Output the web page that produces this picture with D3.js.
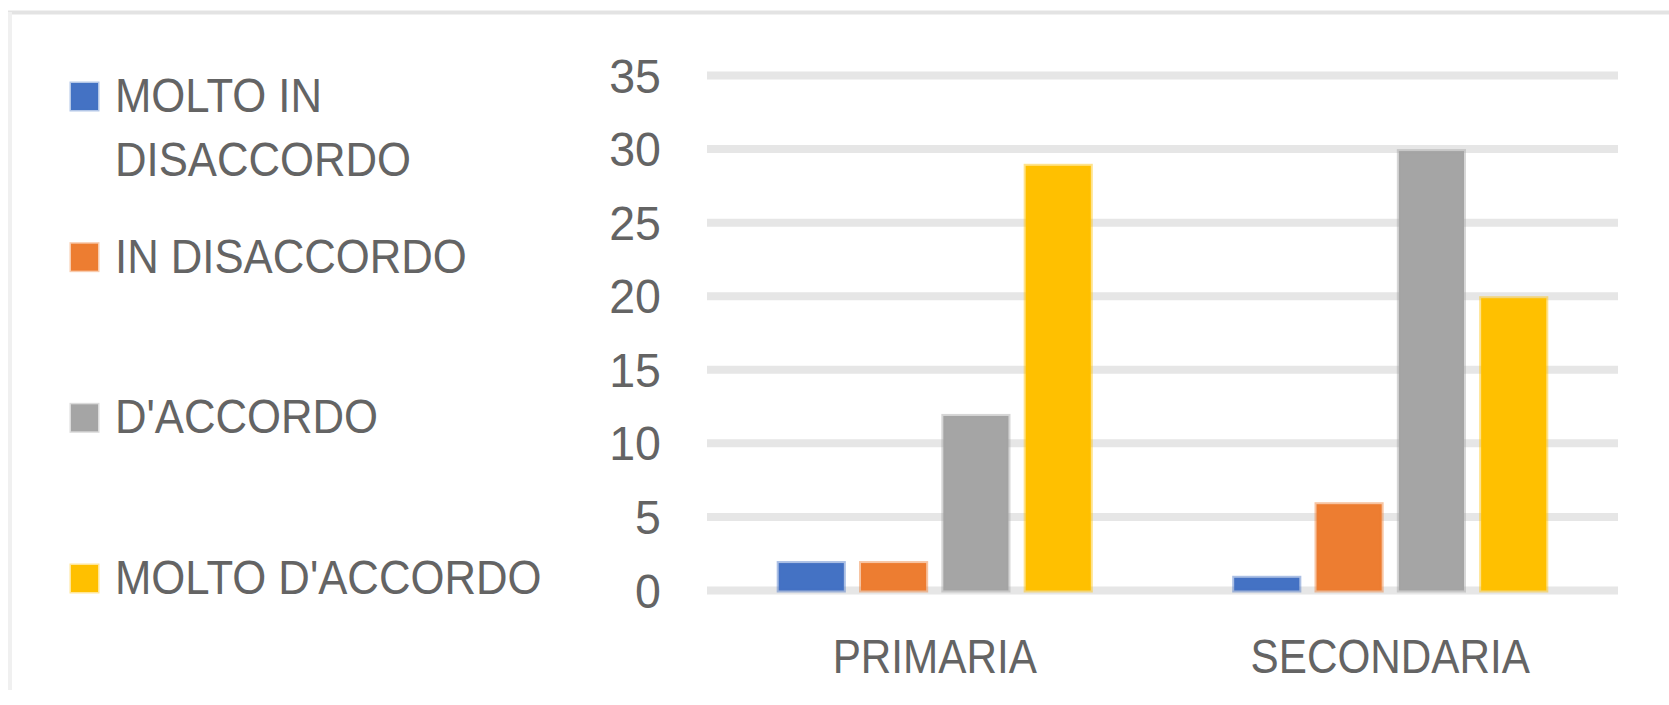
<!DOCTYPE html>
<html>
<head>
<meta charset="utf-8">
<script src="https://cdn.jsdelivr.net/npm/d3@7"></script>
<style>
  html, body { margin: 0; padding: 0; background: #ffffff; }
  svg { display: block; }
  text { font-family: "Liberation Sans", Arial, sans-serif; fill: #646464; }
</style>
</head>
<body>
<svg id="chart" width="1669" height="705"></svg>
<script>
// Survey answers by school level
const categories = ["PRIMARIA", "SECONDARIA"];
const seriesNames = ["MOLTO IN DISACCORDO", "IN DISACCORDO", "D'ACCORDO", "MOLTO D'ACCORDO"];
const legendLines = [["MOLTO IN", "DISACCORDO"], ["IN DISACCORDO"], ["D'ACCORDO"], ["MOLTO D'ACCORDO"]];
const seriesColors = ["#4472C4", "#ED7D31", "#A5A5A5", "#FFC000"];
const molto_in_disaccordo = [2, 1];
const in_disaccordo = [2, 6];
const d_accordo = [12, 30];
const molto_d_accordo = [29, 20];
const yTicks = [0, 5, 10, 15, 20, 25, 30, 35];

const seriesValues = [molto_in_disaccordo, in_disaccordo, d_accordo, molto_d_accordo];

const svg = d3.select("#chart");
const W = 1669, H = 705;

// outer chart frame (top and left edges visible)
svg.append("line").attr("x1", 8).attr("x2", W).attr("y1", 12.5).attr("y2", 12.5)
  .attr("stroke", "#e3e3e3").attr("stroke-width", 4);
svg.append("line").attr("x1", 10).attr("x2", 10).attr("y1", 12).attr("y2", 690)
  .attr("stroke", "#f0f0f0").attr("stroke-width", 4);

const plot = { left: 707, right: 1618, top: 75.5, bottom: 590.5 };

const y = d3.scaleLinear().domain([0, 35]).range([plot.bottom, plot.top]);
const x0 = d3.scaleBand().domain(categories).range([plot.left, plot.right]).padding(0);
const groupW = x0.bandwidth() * 0.694;
const x1 = d3.scaleBand().domain(seriesNames)
  .range([(x0.bandwidth() - groupW) / 2, (x0.bandwidth() + groupW) / 2])
  .paddingInner(0.16).paddingOuter(0);

// gridlines
svg.append("g").selectAll("line").data(yTicks).join("line")
  .attr("x1", plot.left).attr("x2", plot.right)
  .attr("y1", d => y(d)).attr("y2", d => y(d))
  .attr("stroke", "#e6e6e6").attr("stroke-width", 8);

// y axis labels
const sxTick = 0.95;
svg.append("g").selectAll("text").data(yTicks).join("text")
  .attr("text-anchor", "end")
  .attr("font-size", 49)
  .attr("transform", d => `translate(661,${y(d) + 17}) scale(${sxTick},1)`)
  .text(d => d);

// bars
const groups = svg.append("g").selectAll("g").data(categories).join("g")
  .attr("transform", c => `translate(${x0(c)},0)`);
const inset = 2;
groups.selectAll("rect")
  .data((c, ci) => seriesNames.map((s, si) => ({ s, si, v: seriesValues[si][ci] })))
  .join("rect")
  .attr("x", d => x1(d.s) + inset)
  .attr("width", x1.bandwidth() - 2 * inset)
  .attr("y", d => y(d.v) + inset)
  .attr("height", d => Math.max(0, y(0) - y(d.v) - inset))
  .attr("fill", d => seriesColors[d.si])
  .attr("stroke", d => seriesColors[d.si])
  .attr("stroke-opacity", 0.45)
  .attr("stroke-width", 4);

// category labels
const sxText = 0.88;
svg.append("g").selectAll("text").data(categories).join("text")
  .attr("text-anchor", "middle")
  .attr("font-size", 48)
  .attr("transform", c => `translate(${x0(c) + x0.bandwidth() / 2},673) scale(${sxText},1)`)
  .text(c => c);

// legend
const legendY = d3.scalePoint().domain(seriesNames).range([96, 578]);
const leg = svg.append("g").selectAll("g").data(seriesNames).join("g")
  .attr("transform", s => `translate(0,${legendY(s)})`);
leg.append("rect")
  .attr("x", 71).attr("y", -13).attr("width", 27).attr("height", 27)
  .attr("fill", (s, i) => seriesColors[i])
  .attr("stroke", (s, i) => seriesColors[i]).attr("stroke-opacity", 0.4).attr("stroke-width", 3);
const sxLegend = 0.91;
leg.each(function (s, i) {
  const g = d3.select(this);
  const lines = legendLines[i];
  lines.forEach((t, li) => {
    g.append("text")
      .attr("font-size", 48)
      .attr("transform", `translate(115,${16 + li * 64}) scale(${sxLegend},1)`)
      .text(t);
  });
});
</script>
</body>
</html>
